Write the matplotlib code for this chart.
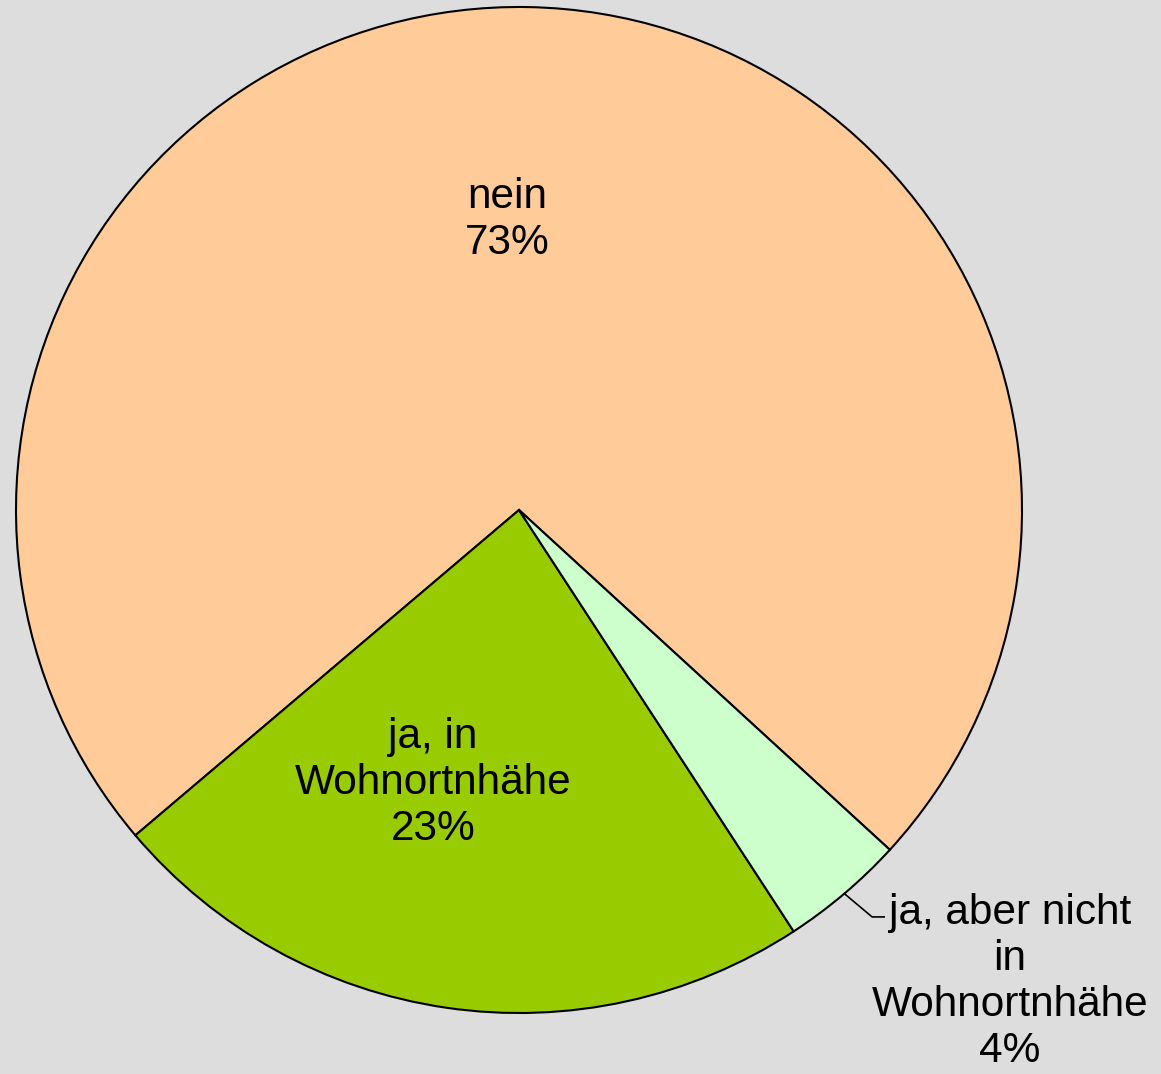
import matplotlib.pyplot as plt
import numpy as np

plt.rcParams['font.family'] = ['Liberation Sans', 'DejaVu Sans']

labels = ["nein", "ja, in\nWohnortnhähe", "ja, aber nicht\nin\nWohnortnhähe"]
values = [73, 23, 4]
colors = ["#FFCC99", "#99CC00", "#CCFFCC"]

fig = plt.figure(figsize=(11.61, 10.74), dpi=100, facecolor="#DDDDDD")
# pie centre at (519, 510) px, radius ~503 px
ax = fig.add_axes([16 / 1161, 61 / 1074, 1006 / 1161, 1006 / 1074])
ax.set_facecolor("#DDDDDD")

wedges, _ = ax.pie(values, colors=colors, startangle=-42.5, counterclock=True,
                   radius=1.0, center=(0, 0),
                   wedgeprops=dict(edgecolor="black", linewidth=1.5))
for w in wedges:
    w.set_clip_on(False)
ax.set_xlim(-1, 1)
ax.set_ylim(-1, 1)
ax.set_aspect("equal")
ax.axis("off")

fs = 30.5
pct = [f"{v}%" for v in values]
ax.text(-0.024, 0.577, labels[0] + "\n" + pct[0], ha="center", va="center",
        fontsize=fs, linespacing=1.2)
ax.text(-0.171, -0.543, labels[1] + "\n" + pct[1], ha="center", va="center",
        fontsize=fs, linespacing=1.2)
ax.text(0.976, -0.938, labels[2] + "\n" + pct[2], ha="center", va="center",
        fontsize=fs, linespacing=1.2, clip_on=False)

# leader line for the small slice
w = wedges[2]
mid = np.deg2rad((w.theta1 + w.theta2) / 2)
x0, y0 = np.cos(mid), np.sin(mid)
ax.plot([x0, 0.702, 0.726], [y0, -0.809, -0.809], color="black", lw=1.2,
        clip_on=False)

fig.savefig("out.png", dpi=100, facecolor=fig.get_facecolor())
